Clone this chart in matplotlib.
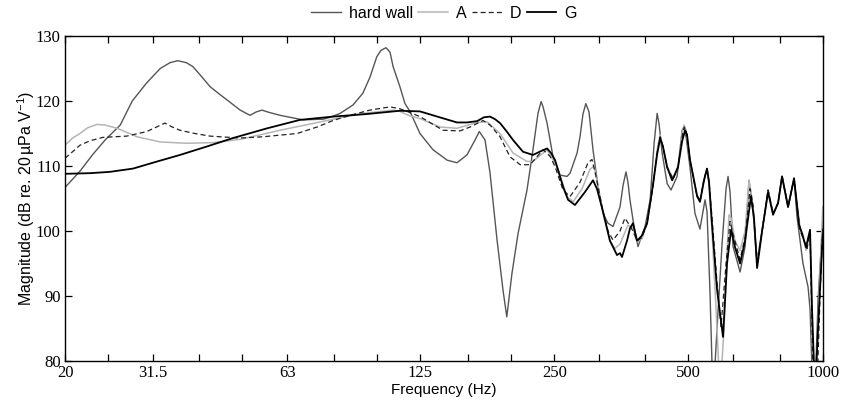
import matplotlib
matplotlib.use("Agg")
import matplotlib.pyplot as plt

plt.rcParams['mathtext.fontset'] = 'custom'
plt.rcParams['mathtext.rm'] = 'Liberation Sans'
plt.rcParams['mathtext.it'] = 'Liberation Sans'

# hard wall
f_hw = [20.0, 21.6, 23.1, 24.6, 26.6, 28.3, 30.5, 32.7, 34.4, 35.8, 37.4, 38.7, 40.2, 42.3,
        44.5, 46.1, 49.4, 52.0, 53.6, 55.3, 57.0, 60.7, 68.3, 75.8, 78.6, 82.8, 88.5, 93.1,
        96.6, 100.0, 102.2, 104.9, 107.1, 108.8, 112.7, 115.7, 118.7, 125.0, 133.7, 143.8,
        151.3, 159.3, 166.1, 169.8, 174.9, 179.5, 186.1, 191.9, 195.7, 201.0, 207.4, 217.2,
        224.0, 229.9, 233.6, 236.0, 240.9, 248.5, 257.7, 267.1, 271.3, 281.3, 285.6, 290.0,
        294.3, 299.2, 305.4, 313.4, 321.6, 330.0, 338.6, 351.1, 356.6, 362.1, 365.8, 369.6,
        377.4, 385.3, 399.6, 410.2, 418.7, 425.3, 429.5, 436.4, 447.8, 456.8, 471.5, 483.8,
        488.8, 493.8, 503.7, 517.0, 530.5, 544.5, 550.2, 558.8, 567.5, 579.4, 594.6, 607.0,
        613.3, 619.7, 629.4, 652.6, 669.7, 683.4, 697.9, 712.5, 731.1, 754.1, 773.8, 794.0,
        810.5, 836.0, 862.3, 875.6, 903.0, 926.9, 936.5, 951.1, 966.0, 976.0, 1000.0]
db_hw = [106.7, 109.2, 111.8, 114.0, 116.3, 120.0, 122.8, 125.0, 125.9, 126.2, 125.9, 125.3,
         124.0, 122.2, 121.0, 120.2, 118.6, 117.8, 118.3, 118.6, 118.3, 117.8, 117.1, 117.2,
         117.5, 118.1, 119.4, 121.2, 123.7, 126.8, 127.8, 128.2, 127.5, 125.3, 122.2, 119.6,
         118.4, 115.0, 112.5, 110.9, 110.5, 111.7, 114.0, 115.3, 114.0, 108.9, 98.6, 90.9,
         86.8, 93.5, 99.6, 106.3, 112.5, 118.1, 119.9, 119.1, 116.6, 111.4, 108.6, 108.4,
         108.9, 112.0, 114.5, 118.0, 119.6, 118.3, 112.5, 106.8, 102.7, 101.2, 100.7, 103.7,
         107.0, 109.1, 107.5, 104.8, 100.7, 97.6, 100.7, 104.8, 113.5, 118.1, 116.5, 112.0,
         107.3, 106.3, 108.4, 115.5, 116.0, 114.5, 109.9, 102.7, 100.3, 104.8, 103.0, 90.4,
         74.0, 85.0, 98.0, 106.5, 108.4, 106.0, 97.6, 93.7, 97.6, 107.8, 103.0, 95.5, 100.0,
         106.3, 102.7, 104.3, 108.4, 103.7, 108.1, 102.2, 95.0, 91.4, 88.0, 74.0, 80.0,
         89.4, 101.5]

# A
f_a = [20.0, 20.8, 21.6, 22.5, 23.6, 24.6, 26.2, 29.0, 32.7, 37.5, 42.9, 49.4, 60.7, 78.6,
       93.1, 108.8, 112.7, 118.7, 125.0, 138.6, 151.3, 167.8, 176.7, 189.0, 202.1, 217.2,
       224.0, 240.9, 253.7, 267.1, 275.6, 288.6, 300.8, 307.0, 313.4, 321.6, 333.3, 342.1,
       351.1, 365.8, 375.4, 383.3, 393.2, 403.8, 416.6, 425.3, 431.9, 438.2, 447.8, 461.9,
       473.6, 483.8, 488.8, 493.8, 503.7, 522.4, 530.5, 541.8, 550.2, 556.0, 564.6, 576.5,
       588.4, 600.7, 610.1, 616.5, 622.9, 635.8, 652.6, 669.7, 683.4, 694.1, 712.5, 731.1,
       754.1, 773.8, 794.0, 810.5, 836.0, 862.3, 889.4, 903.0, 917.3, 936.5, 951.1, 966.0,
       981.1, 1000.0]
db_a = [113.2, 114.3, 115.0, 115.9, 116.4, 116.3, 115.8, 114.5, 113.7, 113.5, 113.6, 114.1,
        115.5, 117.1, 118.1, 118.6, 118.4, 117.7, 117.3, 116.0, 115.8, 116.7, 116.8, 115.0,
        112.0, 110.7, 110.7, 112.5, 109.9, 105.3, 104.5, 106.5, 109.5, 110.0, 107.0, 102.7,
        98.5, 97.3, 98.0, 100.9, 100.5, 98.3, 98.8, 101.2, 107.3, 112.5, 114.8, 113.0, 110.0,
        108.0, 110.0, 115.0, 116.3, 115.5, 111.0, 105.3, 104.5, 108.0, 109.6, 107.0, 100.0,
        88.0, 75.0, 85.0, 97.0, 102.5, 102.0, 98.5, 97.0, 100.0, 107.8, 105.0, 95.0, 100.0,
        106.3, 102.7, 104.3, 108.4, 103.7, 108.1, 100.5, 99.5, 97.0, 99.5, 78.0, 76.0,
        90.0, 103.7]

# D
f_d = [20.0, 20.8, 21.6, 22.8, 24.3, 27.5, 30.5, 33.5, 34.8, 36.2, 39.1, 42.3, 49.4, 55.6,
       66.3, 73.5, 79.8, 87.1, 96.6, 107.1, 112.7, 116.9, 125.0, 140.8, 153.7, 161.9, 173.1,
       179.5, 189.0, 199.0, 209.7, 220.6, 236.0, 244.6, 251.1, 261.7, 271.3, 285.6, 297.6,
       303.8, 310.0, 321.6, 330.0, 338.6, 351.1, 360.2, 367.8, 375.4, 383.3, 393.2, 403.8,
       416.6, 425.3, 431.9, 438.2, 447.8, 461.9, 473.6, 483.8, 488.8, 493.8, 503.7, 522.4,
       530.5, 541.8, 550.2, 556.0, 564.6, 579.4, 591.5, 607.0, 619.7, 629.4, 652.6, 669.7,
       687.2, 697.9, 712.5, 731.1, 754.1, 773.8, 794.0, 810.5, 836.0, 862.3, 889.4, 903.0,
       922.1, 936.5, 951.1, 970.9, 986.2, 1000.0]
db_d = [111.2, 112.2, 113.2, 113.9, 114.4, 114.6, 115.3, 116.6, 116.0, 115.5, 115.0, 114.6,
        114.3, 114.5, 115.0, 116.0, 117.0, 117.8, 118.6, 119.1, 118.8, 118.4, 117.6, 115.5,
        115.4, 116.0, 117.0, 116.3, 114.5, 111.4, 110.2, 110.2, 112.5, 111.5, 109.9, 106.3,
        105.3, 107.5, 110.5, 111.0, 108.5, 103.0, 100.0, 98.6, 100.0, 102.0, 101.0, 100.0,
        98.5, 99.0, 101.2, 107.0, 112.0, 114.5, 113.0, 109.8, 108.0, 109.8, 114.5, 116.0,
        115.5, 111.0, 105.3, 104.5, 108.0, 109.6, 107.5, 102.0, 92.0, 85.3, 95.0, 101.5,
        99.5, 95.6, 99.0, 106.5, 104.0, 94.7, 100.0, 106.3, 102.7, 104.3, 108.4, 103.7,
        108.1, 100.0, 99.0, 97.3, 99.7, 78.0, 76.0, 90.0, 100.5]

# G
f_g = [20.0, 22.8, 25.2, 28.4, 32.2, 36.2, 41.6, 47.6, 56.8, 67.3, 79.8, 95.1, 112.7, 125.0,
       133.7, 151.3, 159.3, 167.8, 174.0, 179.5, 184.2, 189.0, 195.7, 202.1, 212.7, 224.0,
       233.6, 240.9, 245.9, 251.1, 261.7, 268.5, 278.2, 293.0, 305.4, 311.7, 321.6, 333.3,
       345.7, 351.1, 354.7, 364.0, 369.6, 375.4, 383.3, 393.2, 403.8, 416.6, 425.3, 431.9,
       438.2, 447.8, 459.5, 473.6, 483.8, 491.3, 496.3, 503.7, 522.4, 530.5, 541.8, 550.2,
       556.0, 564.6, 579.4, 597.6, 610.1, 622.9, 635.8, 652.6, 669.7, 690.3, 701.3, 712.5,
       731.1, 754.1, 773.8, 794.0, 810.5, 836.0, 862.3, 884.6, 898.4, 917.3, 936.5, 946.2,
       960.9, 976.0, 1000.0]
db_g = [108.8, 108.9, 109.1, 109.6, 110.7, 111.7, 113.0, 114.3, 115.8, 117.1, 117.6, 118.0,
        118.5, 118.4, 117.8, 116.7, 116.7, 116.9, 117.5, 117.6, 117.2, 116.6, 115.3, 114.0,
        112.2, 111.7, 112.3, 112.7, 112.0, 110.9, 106.8, 104.8, 104.0, 106.0, 107.8, 106.5,
        103.0, 98.5, 96.3, 96.6, 96.0, 98.5, 100.4, 101.2, 98.5, 99.3, 101.2, 107.3, 111.8,
        114.3, 113.0, 109.8, 107.8, 109.8, 113.8, 115.5, 114.8, 111.0, 105.5, 104.5, 107.8,
        109.6, 107.5, 101.0, 91.0, 83.7, 95.0, 100.2, 97.5, 95.0, 98.5, 105.3, 102.0, 94.3,
        100.0, 106.0, 102.5, 104.3, 108.4, 103.7, 108.1, 101.0, 99.6, 97.5, 100.2, 88.0,
        75.0, 85.0, 99.5]

xtick_vals = [20, 25, 31.5, 40, 50, 63, 80, 100, 125, 160, 200, 250, 315, 400, 500, 630, 800, 1000]
xtick_lbls = ['20', '', '31.5', '', '', '63', '', '', '125', '', '', '250', '', '', '500', '', '', '1000']

fig = plt.figure(figsize=(8.41, 4.05), dpi=100)
ax = fig.add_axes([0.0773, 0.1086, 0.901, 0.8025])

ax.plot(f_hw, db_hw, color='#555555', lw=1.0, label='hard wall')
ax.plot(f_a, db_a, color='#b5b5b5', lw=1.1, label='A')
ax.plot(f_d, db_d, color='#222222', lw=0.9, ls=(0, (4, 2.5)), label='D')
ax.plot(f_g, db_g, color='black', lw=1.3, label='G')

ax.set_xscale('log')
ax.set_xlim(20, 1000)
ax.set_ylim(80, 130)
ax.set_xticks(xtick_vals)
ax.set_xticklabels(xtick_lbls)
ax.minorticks_off()
ax.set_yticks([80, 90, 100, 110, 120, 130])
for lab in ax.get_xticklabels() + ax.get_yticklabels():
    lab.set_fontfamily('Liberation Serif')
    lab.set_fontsize(12)
ax.tick_params(direction='in', length=5, width=0.9, top=True, right=True, pad=3)

ax.set_xlabel('Frequency (Hz)', fontfamily='Liberation Sans', fontsize=11, labelpad=1)
ax.set_ylabel(r'Magnitude (dB re. 20$\,$µPa V$^{-1}$)', fontfamily='Liberation Sans',
              fontsize=11.5, labelpad=-1)
for s in ax.spines.values():
    s.set_linewidth(1.0)

leg = ax.legend(loc='lower center', bbox_to_anchor=(0.5, 1.0), ncol=4, frameon=False,
                prop={'family': 'Liberation Sans', 'size': 11.5}, handlelength=1.85,
                columnspacing=0.35, handletextpad=0.5, borderaxespad=0.55)

fig.savefig('out.png', dpi=100)
